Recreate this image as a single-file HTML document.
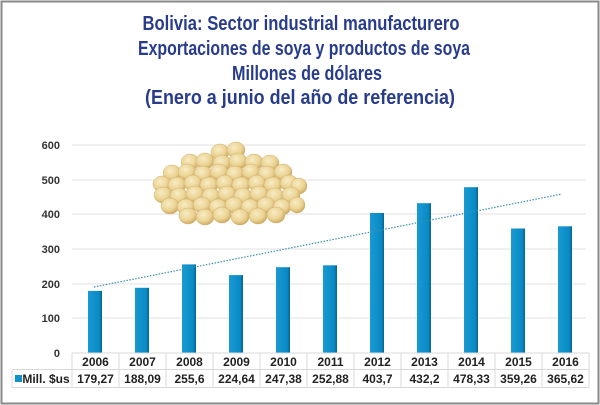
<!DOCTYPE html>
<html><head><meta charset="utf-8"><style>
html,body{margin:0;padding:0;background:#fff}
svg{display:block}
text{font-family:"Liberation Sans",sans-serif}
</style></head><body>
<svg width="600" height="405" viewBox="0 0 600 405">
<defs>
<radialGradient id="b" cx="0.4" cy="0.35" r="0.7">
<stop offset="0" stop-color="#f7ecc4"/><stop offset="0.6" stop-color="#ebd393"/><stop offset="1" stop-color="#c9a35a"/>
</radialGradient>
<linearGradient id="bar" x1="0" x2="1"><stop offset="0" stop-color="#1a9ad3"/><stop offset="0.8" stop-color="#0a8ac4"/><stop offset="1" stop-color="#06628e"/></linearGradient>
</defs>
<rect x="1.5" y="1.5" width="597" height="402" fill="#fff" stroke="#8a8a8a" stroke-width="2"/>
<g fill="#283c8c" font-weight="bold" font-size="20" text-anchor="middle">
<text x="301" y="30" textLength="317" lengthAdjust="spacingAndGlyphs">Bolivia: Sector industrial manufacturero</text>
<text x="304" y="55" textLength="332" lengthAdjust="spacingAndGlyphs">Exportaciones de soya y productos de soya</text>
<text x="307" y="80" textLength="150" lengthAdjust="spacingAndGlyphs">Millones de dólares</text>
<text x="300" y="104" textLength="310" lengthAdjust="spacingAndGlyphs">(Enero a junio del año de referencia)</text>
</g>
<g stroke="#e2e2e2" stroke-width="1">
<line x1="72" y1="145" x2="586" y2="145"/><line x1="72" y1="180" x2="586" y2="180"/>
<line x1="72" y1="214" x2="586" y2="214"/><line x1="72" y1="249" x2="586" y2="249"/>
<line x1="72" y1="284" x2="586" y2="284"/><line x1="72" y1="318" x2="586" y2="318"/>
</g>
<g font-size="11" font-weight="bold" fill="#333" text-anchor="end">
<text x="60" y="149">600</text><text x="60" y="184">500</text><text x="60" y="218">400</text>
<text x="60" y="253">300</text><text x="60" y="288">200</text><text x="60" y="322">100</text><text x="60" y="357">0</text>
</g>
<g fill="url(#b)" stroke="#c9a866" stroke-width="0.4">
<ellipse cx="220" cy="152" rx="9" ry="8"/><ellipse cx="236" cy="150" rx="9" ry="8"/>
<ellipse cx="190" cy="162" rx="9" ry="8"/><ellipse cx="205" cy="161" rx="9" ry="8"/><ellipse cx="222" cy="163" rx="9" ry="8"/><ellipse cx="238" cy="161" rx="9" ry="8"/><ellipse cx="254" cy="162" rx="9" ry="8"/><ellipse cx="270" cy="163" rx="9" ry="8"/>
<ellipse cx="172" cy="173" rx="9" ry="8"/><ellipse cx="187" cy="172" rx="9" ry="8"/><ellipse cx="203" cy="174" rx="9" ry="8"/><ellipse cx="219" cy="172" rx="9" ry="8"/><ellipse cx="235" cy="174" rx="9" ry="8"/><ellipse cx="251" cy="172" rx="9" ry="8"/><ellipse cx="267" cy="174" rx="9" ry="8"/><ellipse cx="283" cy="172" rx="9" ry="8"/>
<ellipse cx="162" cy="184" rx="9" ry="8"/><ellipse cx="177" cy="185" rx="9" ry="8"/><ellipse cx="193" cy="183" rx="9" ry="8"/><ellipse cx="209" cy="185" rx="9" ry="8"/><ellipse cx="225" cy="183" rx="9" ry="8"/><ellipse cx="241" cy="185" rx="9" ry="8"/><ellipse cx="257" cy="183" rx="9" ry="8"/><ellipse cx="273" cy="185" rx="9" ry="8"/><ellipse cx="289" cy="183" rx="9" ry="8"/><ellipse cx="299" cy="186" rx="8" ry="8"/>
<ellipse cx="163" cy="195" rx="9" ry="8"/><ellipse cx="179" cy="196" rx="9" ry="8"/><ellipse cx="195" cy="194" rx="9" ry="8"/><ellipse cx="211" cy="196" rx="9" ry="8"/><ellipse cx="227" cy="194" rx="9" ry="8"/><ellipse cx="243" cy="196" rx="9" ry="8"/><ellipse cx="259" cy="194" rx="9" ry="8"/><ellipse cx="275" cy="196" rx="9" ry="8"/><ellipse cx="291" cy="195" rx="9" ry="8"/>
<ellipse cx="170" cy="206" rx="9" ry="8"/><ellipse cx="186" cy="207" rx="9" ry="8"/><ellipse cx="202" cy="205" rx="9" ry="8"/><ellipse cx="218" cy="207" rx="9" ry="8"/><ellipse cx="234" cy="205" rx="9" ry="8"/><ellipse cx="250" cy="207" rx="9" ry="8"/><ellipse cx="266" cy="205" rx="9" ry="8"/><ellipse cx="282" cy="207" rx="9" ry="8"/><ellipse cx="297" cy="205" rx="8" ry="8"/>
<ellipse cx="188" cy="216" rx="9" ry="8"/><ellipse cx="205" cy="217" rx="9" ry="8"/><ellipse cx="222" cy="215" rx="9" ry="8"/><ellipse cx="240" cy="217" rx="9" ry="8"/><ellipse cx="258" cy="216" rx="9" ry="8"/><ellipse cx="276" cy="215" rx="9" ry="8"/>
</g>
<g fill="url(#bar)">
<rect x="88" y="290.9" width="14" height="62.1"/>
<rect x="135" y="287.8" width="14" height="65.2"/>
<rect x="182" y="264.4" width="14" height="88.6"/>
<rect x="229" y="275.1" width="14" height="77.9"/>
<rect x="276" y="267.2" width="14" height="85.8"/>
<rect x="323" y="265.3" width="14" height="87.7"/>
<rect x="370" y="213" width="14" height="140"/>
<rect x="417" y="203.2" width="14" height="149.8"/>
<rect x="464" y="187.2" width="14" height="165.8"/>
<rect x="511" y="228.5" width="14" height="124.5"/>
<rect x="558" y="226.3" width="14" height="126.7"/>
</g>
<line x1="94" y1="287" x2="562" y2="194" stroke="#3a8fb0" stroke-width="1.2" stroke-dasharray="1.5,1.5"/>
<g stroke="#d8d8d8" stroke-width="1" fill="none">
<line x1="72" y1="353" x2="589" y2="353"/><line x1="12" y1="369.5" x2="589" y2="369.5"/><line x1="12" y1="387.5" x2="589" y2="387.5"/>
<line x1="12" y1="369.5" x2="12" y2="387.5"/>
<line x1="72" y1="353" x2="72" y2="387.5"/><line x1="119" y1="353" x2="119" y2="387.5"/><line x1="166" y1="353" x2="166" y2="387.5"/><line x1="213" y1="353" x2="213" y2="387.5"/><line x1="260" y1="353" x2="260" y2="387.5"/><line x1="307" y1="353" x2="307" y2="387.5"/><line x1="354" y1="353" x2="354" y2="387.5"/><line x1="401" y1="353" x2="401" y2="387.5"/><line x1="448" y1="353" x2="448" y2="387.5"/><line x1="495" y1="353" x2="495" y2="387.5"/><line x1="542" y1="353" x2="542" y2="387.5"/><line x1="589" y1="353" x2="589" y2="387.5"/>
</g>
<rect x="15" y="375" width="7" height="7" fill="#0e90c8"/>
<g font-size="12" font-weight="bold" fill="#222" text-anchor="middle">
<text x="46" y="383">Mill. $us</text>
<text x="95.5" y="366">2006</text><text x="142.5" y="366">2007</text><text x="189.5" y="366">2008</text><text x="236.5" y="366">2009</text><text x="283.5" y="366">2010</text><text x="330.5" y="366">2011</text><text x="377.5" y="366">2012</text><text x="424.5" y="366">2013</text><text x="471.5" y="366">2014</text><text x="518.5" y="366">2015</text><text x="565.5" y="366">2016</text>
<text x="95.5" y="383">179,27</text><text x="142.5" y="383">188,09</text><text x="189.5" y="383">255,6</text><text x="236.5" y="383">224,64</text><text x="283.5" y="383">247,38</text><text x="330.5" y="383">252,88</text><text x="377.5" y="383">403,7</text><text x="424.5" y="383">432,2</text><text x="471.5" y="383">478,33</text><text x="518.5" y="383">359,26</text><text x="565.5" y="383">365,62</text>
</g>
</svg>
</body></html>
